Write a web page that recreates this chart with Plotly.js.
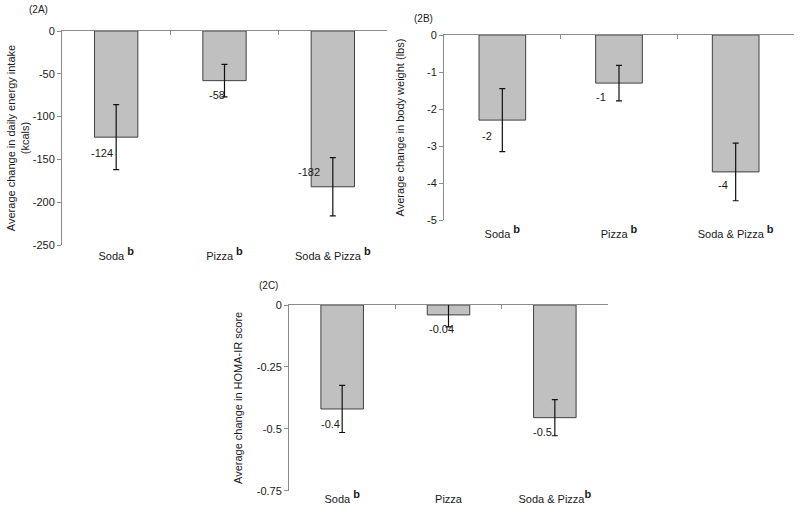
<!DOCTYPE html>
<html>
<head>
<meta charset="utf-8">
<script src="https://cdn.plot.ly/plotly-3.0.1.min.js"></script>
<style>html,body{margin:0;padding:0;background:#fff;}#chart{width:800px;height:515px;}</style>
</head>
<body>
<div id="chart"></div>
<script>
// ---- data ----
const SUP_B = "<sup><span style='font-size:11px'><b>b</b></span></sup>";
const categoriesA = ["Soda " + SUP_B, "Pizza " + SUP_B, "Soda & Pizza " + SUP_B];
const categoriesB = ["Soda " + SUP_B, "Pizza " + SUP_B, "Soda & Pizza " + SUP_B];
const categoriesC = ["Soda " + SUP_B, "Pizza", "Soda & Pizza" + SUP_B];

const energyValues = [-124, -58, -182];
const energyErrors = [38, 19, 34];
const energyLabels = ["-124", "-58", "-182"];

const weightValues = [-2.3, -1.3, -3.7];
const weightErrors = [0.85, 0.48, 0.78];
const weightLabels = ["-2", "-1", "-4"];

const homaValues = [-0.42, -0.04, -0.455];
const homaErrors = [0.095, 0.048, 0.073];
const homaLabels = ["-0.4", "-0.04", "-0.5"];

const tickValsA = [0, -50, -100, -150, -200, -250];
const tickTextA = ["0", "-50", "-100", "-150", "-200", "-250"];
const tickValsB = [0, -1, -2, -3, -4, -5];
const tickTextB = ["0", "-1", "-2", "-3", "-4", "-5"];
const tickValsC = [0, -0.25, -0.5, -0.75];
const tickTextC = ["0", "-0.25", "-0.5", "-0.75"];

// label offsets (px) – layout only
const offA = [[-14, -16], [-8, -14], [-24, 15]];
const offB = [[-15, -16], [-18, -14], [-13, -13]];
const offC = [[-12, -15], [-7, -14], [-12, -14]];

// ---- styles ----
const FONT = "Liberation Sans, Arial, sans-serif";
const TXT = "#1a1a1a";
const AXC = "#8c8c8c";

function barTrace(cats, vals, errs, xa, ya) {
  return {
    type: "bar", x: cats, y: vals, xaxis: xa, yaxis: ya,
    width: 0.4, cliponaxis: false,
    marker: {color: "#c0c0c0", line: {color: "#404040", width: 1}},
    error_y: {type: "data", array: errs, visible: true, color: "#111", thickness: 1.2, width: 3},
    hoverinfo: "skip", showlegend: false
  };
}
// empty helper traces so the overlaid zero-line axes get drawn
function axisHelper(xa, ya) {
  return {type: "scatter", mode: "none", x: [], y: [], xaxis: xa, yaxis: ya, hoverinfo: "skip", showlegend: false};
}

const data = [
  barTrace(categoriesA, energyValues, energyErrors, "x", "y"),
  barTrace(categoriesB, weightValues, weightErrors, "x2", "y2"),
  barTrace(categoriesC, homaValues, homaErrors, "x3", "y3"),
  axisHelper("x4", "y"),
  axisHelper("x5", "y2"),
  axisHelper("x6", "y3")
];

function yAx(dom, anchor, range, tv, tt, titleText, standoff) {
  return {
    domain: dom, anchor: anchor, range: range, tickmode: "array", tickvals: tv, ticktext: tt,
    showline: true, linecolor: AXC, linewidth: 1, ticks: "outside", ticklen: 4, tickcolor: AXC,
    showgrid: false, zeroline: false, fixedrange: true,
    tickfont: {family: FONT, size: 11, color: TXT},
    title: {text: titleText, font: {family: FONT, size: 11, color: TXT}, standoff: standoff}
  };
}
function xBottom(dom, anchor, standoff) {
  return {
    domain: dom, anchor: anchor, type: "category", range: [-0.5, 2.5],
    showline: false, ticks: "", showgrid: false, zeroline: false,
    tickfont: {family: FONT, size: 11, color: TXT}, ticklabelstandoff: standoff
  };
}
function xTop(dom, anchor, over) {
  return {
    domain: dom, anchor: anchor, overlaying: over, side: "top", type: "linear",
    range: [-0.5, 2.5], tickmode: "array", tickvals: [0.5, 1.5, 2.5],
    showticklabels: false, ticks: "inside", ticklen: 4, tickcolor: AXC,
    showline: true, linecolor: AXC, linewidth: 1, showgrid: false, zeroline: false
  };
}

const domA = [62/800, 387/800], domAy = [1 - 245/515, 1 - 31/515];
const domB = [444/800, 794/800], domBy = [1 - 220/515, 1 - 35/515];
const domC = [289/800, 608/800], domCy = [1 - 490.7/515, 1 - 305/515];

const layout = {
  width: 800, height: 515,
  margin: {l: 0, r: 0, t: 0, b: 0},
  paper_bgcolor: "#fff", plot_bgcolor: "rgba(0,0,0,0)",
  font: {family: FONT, size: 11, color: TXT},
  showlegend: false,
  xaxis: xBottom(domA, "y", 3),
  yaxis: yAx(domAy, "x", [-250, 0], tickValsA, tickTextA, "Average change in daily energy intake<br>(kcals)", 0),
  xaxis2: xBottom(domB, "y2", 6),
  yaxis2: yAx(domBy, "x2", [-5, 0], tickValsB, tickTextB, "Average change in body weight (lbs)", 20),
  xaxis3: xBottom(domC, "y3", 0),
  yaxis3: yAx(domCy, "x3", [-0.75, 0], tickValsC, tickTextC, "Average change in HOMA-IR score", 11),
  xaxis4: xTop(domA, "y", "x"),
  xaxis5: xTop(domB, "y2", "x2"),
  xaxis6: xTop(domC, "y3", "x3"),
  annotations: []
};

function addLabels(cats, vals, labels, offs, xref, yref) {
  cats.forEach((c, i) => {
    layout.annotations.push({
      x: c, y: vals[i], xref: xref, yref: yref, text: labels[i], showarrow: false,
      xshift: offs[i][0], yshift: offs[i][1],
      font: {family: FONT, size: 11, color: TXT}
    });
  });
}
addLabels(categoriesA, energyValues, energyLabels, offA, "x", "y");
addLabels(categoriesB, weightValues, weightLabels, offB, "x2", "y2");
addLabels(categoriesC, homaValues, homaLabels, offC, "x3", "y3");

const panelTags = [["(2A)", 38/800, 1 - 10/515], ["(2B)", 423/800, 1 - 18/515], ["(2C)", 268/800, 1 - 285/515]];
panelTags.forEach(p => layout.annotations.push({
  text: p[0], x: p[1], y: p[2], xref: "paper", yref: "paper", showarrow: false,
  xanchor: "center", yanchor: "middle",
  font: {family: FONT, size: 10, color: TXT}
}));

Plotly.newPlot("chart", data, layout, {staticPlot: true, displayModeBar: false});
</script>
</body>
</html>
